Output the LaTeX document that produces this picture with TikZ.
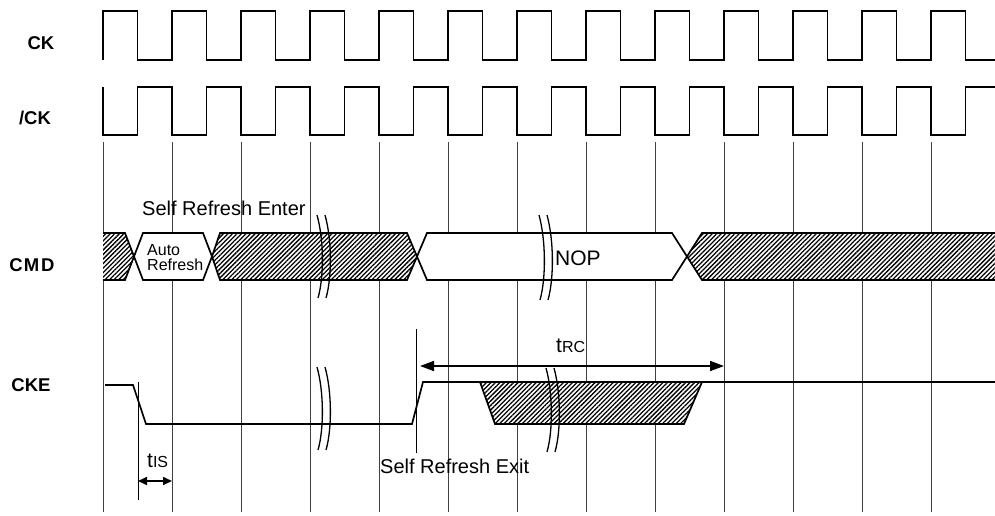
\documentclass[tikz,border=0pt]{standalone}
\usepackage{fontspec}
\setmainfont{Liberation Sans}
\usetikzlibrary{arrows.meta,patterns.meta}
\tikzset{
  grid/.style={draw=black!75,line width=0.8pt},
  clk/.style={draw=black,line width=1.9pt,line join=miter},
  bus/.style={draw=black,line width=1.7pt,line join=miter},
  hatch/.style={preaction={fill=white},pattern={Lines[angle=45,distance=3.2pt,line width=1.3pt]}},
  white box/.style={fill=white},
  sig/.style={font=\bfseries\fontsize{18.5}{20}\selectfont,inner sep=0pt},
  txt/.style={font=\fontsize{20}{22}\selectfont,inner sep=0pt},
  small/.style={font=\fontsize{16}{17}\selectfont,inner sep=0pt,align=left},
  marker/.style={draw=black,line width=1pt},
  brk/.style={draw=black,line width=1.3pt},
  dim/.style={draw=black,line width=1.6pt,{Triangle[length=9pt,width=8pt]}-{Triangle[length=9pt,width=8pt]}},
  dimbig/.style={draw=black,line width=1.6pt,{Triangle[length=14pt,width=10pt]}-{Triangle[length=14pt,width=10pt]}}
}
\newcommand\breakmark[3]{%
  \draw[brk] (#1,#2) .. controls ({#1+7},{#2+0.3*(#3-#2)}) and ({#1+7},{#2+0.75*(#3-#2)}) .. ({#1+1},#3);
  \draw[brk] ({#1+8},#2) .. controls ({#1+15},{#2+0.3*(#3-#2)}) and ({#1+15},{#2+0.75*(#3-#2)}) .. ({#1+9},#3);
}
\begin{document}
\begin{tikzpicture}[x=1pt,y=-1pt]
\useasboundingbox (0,0) rectangle (995,516);
% labels
\node[sig] (lck) at (41,43) {CK};
\node[sig] (lnck) at (35,118) {/CK};
\node[sig] (lcmd) at (32,265) {C\kern1ptM\kern2ptD};
\node[sig] (lcke) at (31,385) {CKE};
% grid
\foreach \i in {0,...,12} \draw[grid] ({103+69*\i},142) -- ({103+69*\i},512);
% CK
\draw[clk] (103,60) \foreach \i in {0,...,11} { -- ({103+69*\i},11) -- ({137.5+69*\i},11) -- ({137.5+69*\i},60) -- ({172+69*\i},60) }
  -- (931,11) -- (965.5,11) -- (965.5,60) -- (995,60);
% /CK
\draw[clk] (103,87) \foreach \i in {0,...,11} { -- ({103+69*\i},135) -- ({137.5+69*\i},135) -- ({137.5+69*\i},87) -- ({172+69*\i},87) }
  -- (931,135) -- (965.5,135) -- (965.5,87) -- (995,87);
% CMD bus
\fill[hatch] (103,233) -- (125,233) -- (134,256.5) -- (125,280) -- (103,280) -- cycle;
\draw[bus] (103,233) -- (125,233) -- (134,256.5) -- (125,280) -- (103,280);
\draw[bus,white box] (134,256.5) -- (143,233) -- (203,233) -- (212,256.5) -- (203,280) -- (143,280) -- cycle;
\draw[bus,hatch] (212,256.5) -- (220,233) -- (407,233) -- (417,256.5) -- (407,280) -- (220,280) -- cycle;
\draw[bus,white box] (417,256.5) -- (427,233) -- (672,233) -- (687,256.5) -- (672,280) -- (427,280) -- cycle;
\fill[hatch] (687,256.5) -- (702,233) -- (995,233) -- (995,280) -- (702,280) -- cycle;
\draw[bus] (995,233) -- (702,233) -- (687,256.5) -- (702,280) -- (995,280);
\node[small,anchor=west] (auto) at (147,258) {Auto\\[-2pt]Refresh};
\node[txt,anchor=west,font=\fontsize{21}{22}\selectfont] (nop) at (555,258) {NOP};
\node[txt,anchor=base west] (sre) at (142,215) {Self Refresh Enter};
% CKE
\draw[bus] (105,385) -- (133,385) -- (146,424) -- (412,424) -- (423,382) -- (995,382);
\draw[bus,hatch] (480,382) -- (702,382) -- (684,424) -- (495,424) -- cycle;
% breaks
\breakmark{317}{215}{298}
\breakmark{539}{215}{300}
\breakmark{317}{367}{450}
\breakmark{546}{368}{452}
% markers and dimensions
\coordinate (tisL) at (138,481);
\coordinate (tisR) at (172,481);
\draw[marker] (138,382) -- (138,500);
\draw[dim] (tisL) -- (tisR);
\node[anchor=base west,inner sep=0pt] (tis) at (147,467) {\fontsize{21}{22}\selectfont t\fontsize{16}{16}\selectfont IS};
\draw[marker] (416,329) -- (416,453);
\coordinate (trcL) at (420,366);
\coordinate (trcR) at (724,366);
\draw[dimbig] (trcL) -- (trcR);
\node[anchor=base west,inner sep=0pt] (trc) at (556,352) {\fontsize{21}{22}\selectfont t\fontsize{16}{16}\selectfont RC};
\node[txt,anchor=base west] (sre2) at (380,473) {Self Refresh Exit};
\end{tikzpicture}
\end{document}
